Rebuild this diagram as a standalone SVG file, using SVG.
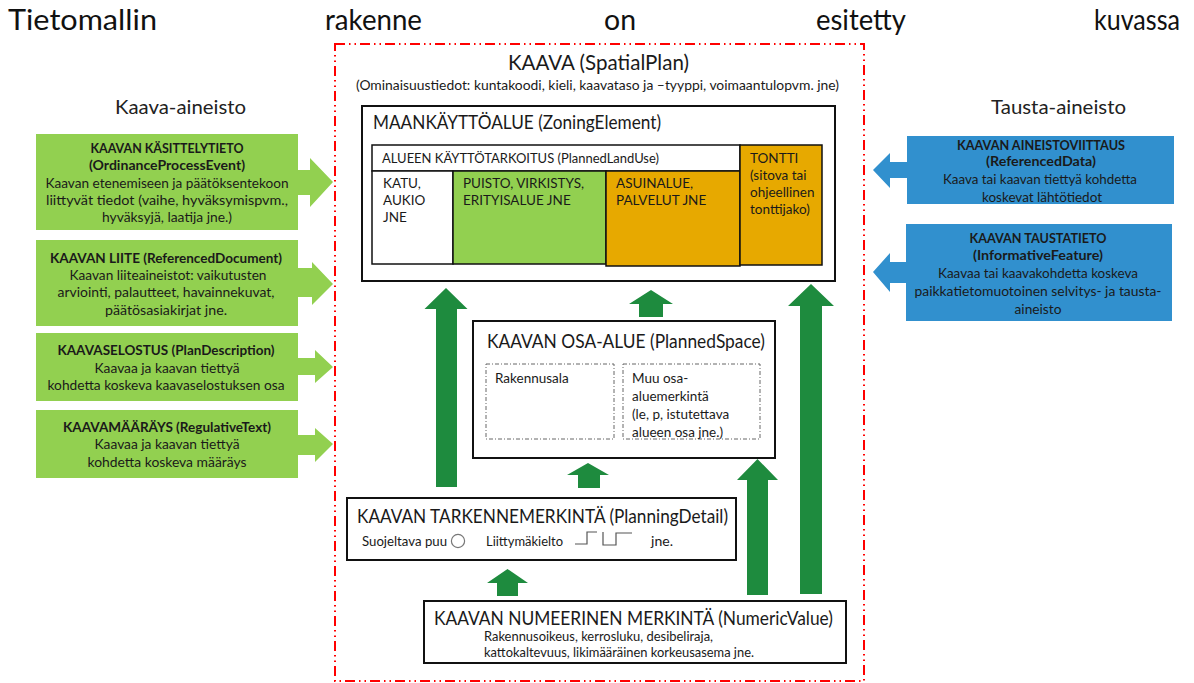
<svg xmlns="http://www.w3.org/2000/svg" width="1194" height="683" viewBox="0 0 1194 683">
  <style>
    .t { font-family: Lato, "Open Sans", "Liberation Sans", sans-serif; fill: #1a1a1a; }
    .head { font-weight: normal; font-size: 28px; fill: #111; }
    .side { font-size: 20px; fill: #222; }
    .bx { font-size: 14px; text-anchor: middle; }
    .bxb { font-size: 14px; text-anchor: middle; font-weight: bold; }
    .ttl { font-size: 19px; }
    .sm { font-size: 13.5px; }
    .xs { font-size: 12.5px; }
    .frame { fill: #fff; stroke: #111; stroke-width: 2; }
    .cell { stroke: #111; stroke-width: 1.5; }
    .sub { fill: none; stroke: #666; stroke-width: 1; stroke-dasharray: 4 2 1 2; }
    .green { fill: #92D050; }
    .blue { fill: #3190CE; }
    .orange { fill: #E7A900; }
    .up { fill: #1E8B3E; }
  </style>

  <!-- heading, justified across the full width -->
  <g id="heading">
    <text class="t head" x="8" y="30" textLength="149" lengthAdjust="spacingAndGlyphs">Tietomallin</text>
    <text class="t head" x="325" y="30" textLength="97" lengthAdjust="spacingAndGlyphs">rakenne</text>
    <text class="t head" x="604" y="30" textLength="32" lengthAdjust="spacingAndGlyphs">on</text>
    <text class="t head" x="816" y="30" textLength="90" lengthAdjust="spacingAndGlyphs">esitetty</text>
    <text class="t head" x="1094" y="30" textLength="86" lengthAdjust="spacingAndGlyphs">kuvassa</text>
  </g>

  <g id="label-kaava-aineisto">
    <text class="t side" x="115" y="114" textLength="131" lengthAdjust="spacingAndGlyphs">Kaava-aineisto</text>
  </g>
  <g id="label-tausta-aineisto">
    <text class="t side" x="991" y="114" textLength="135" lengthAdjust="spacingAndGlyphs">Tausta-aineisto</text>
  </g>

  <!-- plan frame -->
  <g id="spatial-plan">
    <rect x="335" y="44" width="529" height="637" fill="none" stroke="#FF0000" stroke-width="2" stroke-dasharray="10 4 1.5 4 1.5 4"/>
    <text class="t" font-size="22" x="508" y="70" textLength="181" lengthAdjust="spacingAndGlyphs">KAAVA (SpatialPlan)</text>
    <text class="t sm" x="356" y="90" textLength="483" lengthAdjust="spacingAndGlyphs">(Ominaisuustiedot: kuntakoodi, kieli, kaavataso ja –tyyppi, voimaantulopvm. jne)</text>
  </g>

  <!-- land use element -->
  <g id="zoning-element">
    <rect class="frame" x="362" y="106" width="473" height="175"/>
    <text class="t" font-size="18.5" x="373" y="129" textLength="288" lengthAdjust="spacingAndGlyphs">MAANKÄYTTÖALUE (ZoningElement)</text>
    <rect class="cell" fill="#fff" x="372" y="145" width="368" height="26"/>
    <text class="t sm" x="382" y="163" textLength="277" lengthAdjust="spacingAndGlyphs">ALUEEN KÄYTTÖTARKOITUS (PlannedLandUse)</text>
    <rect class="cell" fill="#fff" x="372" y="171" width="81" height="93"/>
    <rect class="cell green" x="453" y="171" width="153" height="93"/>
    <rect class="cell orange" x="606" y="171" width="134" height="95"/>
    <rect class="cell orange" x="740" y="145" width="82" height="120"/>
    <text class="t sm" x="383" y="188">KATU,</text>
    <text class="t sm" x="383" y="205">AUKIO</text>
    <text class="t sm" x="383" y="222">JNE</text>
    <text class="t sm" x="463" y="188">PUISTO, VIRKISTYS,</text>
    <text class="t sm" x="463" y="205">ERITYISALUE JNE</text>
    <text class="t sm" x="616" y="188">ASUINALUE,</text>
    <text class="t sm" x="616" y="205">PALVELUT JNE</text>
    <text class="t sm" x="750" y="163">TONTTI</text>
    <text class="t sm" x="750" y="180">(sitova tai</text>
    <text class="t sm" x="750" y="197">ohjeellinen</text>
    <text class="t sm" x="750" y="214">tonttijako)</text>
  </g>

  <!-- planned space -->
  <g id="planned-space">
    <rect class="frame" x="473" y="321" width="302" height="137"/>
    <text class="t" font-size="19.5" x="487" y="348" textLength="278" lengthAdjust="spacingAndGlyphs">KAAVAN OSA-ALUE (PlannedSpace)</text>
    <rect class="sub" x="486" y="364" width="128" height="75"/>
    <rect class="sub" x="623" y="364" width="137" height="75"/>
    <text class="t sm" x="495" y="383">Rakennusala</text>
    <text class="t sm" x="632" y="383">Muu osa-</text>
    <text class="t sm" x="632" y="401">aluemerkintä</text>
    <text class="t sm" x="632" y="419">(le, p, istutettava</text>
    <text class="t sm" x="632" y="437">alueen osa jne.)</text>
  </g>

  <!-- planning detail -->
  <g id="planning-detail">
    <rect class="frame" x="347" y="498" width="389" height="62"/>
    <text class="t ttl" x="357" y="523" textLength="371" lengthAdjust="spacingAndGlyphs">KAAVAN TARKENNEMERKINTÄ (PlanningDetail)</text>
    <text class="t xs" x="362" y="546" textLength="85" lengthAdjust="spacingAndGlyphs">Suojeltava puu</text>
    <circle cx="458" cy="541" r="6.6" fill="none" stroke="#777" stroke-width="1.2"/>
    <text class="t xs" x="486" y="546" textLength="77" lengthAdjust="spacingAndGlyphs">Liittymäkielto</text>
    <path d="M575,544 H587 V532 H597 M603,532 V545 H616 V533 H632" fill="none" stroke="#555" stroke-width="1.2"/>
    <text class="t xs" x="651" y="546" textLength="22" lengthAdjust="spacingAndGlyphs">jne.</text>
  </g>

  <!-- numeric value -->
  <g id="numeric-value">
    <rect class="frame" x="424" y="601" width="422" height="62"/>
    <text class="t ttl" x="434" y="625" textLength="399" lengthAdjust="spacingAndGlyphs">KAAVAN NUMEERINEN MERKINTÄ (NumericValue)</text>
    <text class="t xs" x="484" y="641" textLength="229" lengthAdjust="spacingAndGlyphs">Rakennusoikeus, kerrosluku, desibeliraja,</text>
    <text class="t xs" x="484" y="657" textLength="270" lengthAdjust="spacingAndGlyphs">kattokaltevuus, likimääräinen korkeusasema jne.</text>
  </g>

  <!-- source material callouts (left) -->
  <g id="ordinance-process-event">
    <path class="green" d="M36,134 H298 V170 H310 V158 L333,182 L310,207 V195 H298 V230 H36 Z"/>
    <text class="t bxb" x="167" y="153" textLength="153" lengthAdjust="spacingAndGlyphs">KAAVAN KÄSITTELYTIETO</text>
    <text class="t bxb" x="167" y="170" textLength="156" lengthAdjust="spacingAndGlyphs">(OrdinanceProcessEvent)</text>
    <text class="t bx" x="167" y="188" textLength="243" lengthAdjust="spacingAndGlyphs">Kaavan etenemiseen ja päätöksentekoon</text>
    <text class="t bx" x="167" y="205" textLength="242" lengthAdjust="spacingAndGlyphs">liittyvät tiedot (vaihe, hyväksymispvm.,</text>
    <text class="t bx" x="167" y="222" textLength="130" lengthAdjust="spacingAndGlyphs">hyväksyjä, laatija jne.)</text>
  </g>
  <g id="referenced-document">
    <path class="green" d="M36,240 H298 V268 H312 V262 L333,284 L312,305 V297 H298 V326 H36 Z"/>
    <text class="t bxb" x="166" y="263" textLength="232" lengthAdjust="spacingAndGlyphs">KAAVAN LIITE (ReferencedDocument)</text>
    <text class="t bx" x="168" y="280" textLength="197" lengthAdjust="spacingAndGlyphs">Kaavan liiteaineistot: vaikutusten</text>
    <text class="t bx" x="166" y="297" textLength="217" lengthAdjust="spacingAndGlyphs">arviointi, palautteet, havainnekuvat,</text>
    <text class="t bx" x="166" y="315" textLength="122" lengthAdjust="spacingAndGlyphs">päätösasiakirjat jne.</text>
  </g>
  <g id="plan-description">
    <path class="green" d="M36,333 H298 V358 H315 V350 L333,367 L315,383 V375 H298 V401 H36 Z"/>
    <text class="t bxb" x="166" y="355" textLength="217" lengthAdjust="spacingAndGlyphs">KAAVASELOSTUS (PlanDescription)</text>
    <text class="t bx" x="167" y="373" textLength="145" lengthAdjust="spacingAndGlyphs">Kaavaa ja kaavan tiettyä</text>
    <text class="t bx" x="166" y="390" textLength="237" lengthAdjust="spacingAndGlyphs">kohdetta koskeva kaavaselostuksen osa</text>
  </g>
  <g id="regulative-text">
    <path class="green" d="M36,410 H298 V435 H315 V428 L333,444 L315,462 V455 H298 V478 H36 Z"/>
    <text class="t bxb" x="167" y="432" textLength="208" lengthAdjust="spacingAndGlyphs">KAAVAMÄÄRÄYS (RegulativeText)</text>
    <text class="t bx" x="167" y="449" textLength="145" lengthAdjust="spacingAndGlyphs">Kaavaa ja kaavan tiettyä</text>
    <text class="t bx" x="167" y="467" textLength="159" lengthAdjust="spacingAndGlyphs">kohdetta koskeva määräys</text>
  </g>

  <!-- background material callouts (right) -->
  <g id="referenced-data">
    <path class="blue" d="M1174,136 V204 H907 V178 H890 V188 L873,170 L890,153 V162 H907 V136 Z"/>
    <text class="t bxb" x="1041" y="150" textLength="168" lengthAdjust="spacingAndGlyphs">KAAVAN AINEISTOVIITTAUS</text>
    <text class="t bxb" x="1041" y="166" textLength="110" lengthAdjust="spacingAndGlyphs">(ReferencedData)</text>
    <text class="t bx" x="1040" y="184" textLength="194" lengthAdjust="spacingAndGlyphs">Kaava tai kaavan tiettyä kohdetta</text>
    <text class="t bx" x="1042" y="202" textLength="120" lengthAdjust="spacingAndGlyphs">koskevat lähtötiedot</text>
  </g>
  <g id="informative-feature">
    <path class="blue" d="M1172,224 V321 H906 V283 H890 V292 L873,272 L890,253 V262 H906 V224 Z"/>
    <text class="t bxb" x="1038" y="243" textLength="137" lengthAdjust="spacingAndGlyphs">KAAVAN TAUSTATIETO</text>
    <text class="t bxb" x="1038" y="260" textLength="130" lengthAdjust="spacingAndGlyphs">(InformativeFeature)</text>
    <text class="t bx" x="1038" y="278" textLength="200" lengthAdjust="spacingAndGlyphs">Kaavaa tai kaavakohdetta koskeva</text>
    <text class="t bx" x="1038" y="296" textLength="247" lengthAdjust="spacingAndGlyphs">paikkatietomuotoinen selvitys- ja tausta-</text>
    <text class="t bx" x="1038" y="314" textLength="47" lengthAdjust="spacingAndGlyphs">aineisto</text>
  </g>

  <!-- upward block arrows between levels -->
  <g id="connectors">
    <path class="up" d="M446,288 L467.5,309 H457 V487 H436 V309 H424.5 Z"/>
    <path class="up" d="M651,290 L673,304 H663 V317 H639 V304 H629 Z"/>
    <path class="up" d="M588,463 L609,475 H600 V488 H578 V475 H567 Z"/>
    <path class="up" d="M757.5,459 L778,480 H768 V595 H747 V480 H737 Z"/>
    <path class="up" d="M811,284 L834,306 H822 V594 H800 V306 H788 Z"/>
    <path class="up" d="M507.5,569 L528,583 H518 V596 H497 V583 H487 Z"/>
  </g>
</svg>
